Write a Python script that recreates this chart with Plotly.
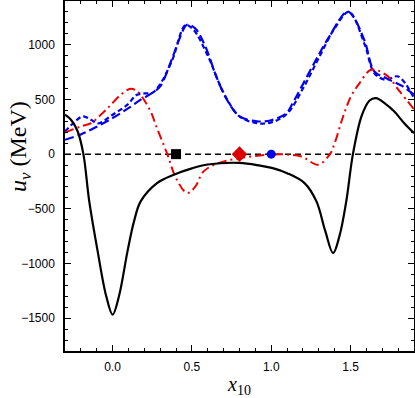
import plotly.graph_objects as go

# Black solid curve
x_black = [-0.3, -0.26, -0.22, -0.184, -0.147, -0.094, -0.04, 0.0, 0.04, 0.094, 0.135, 0.177,
           0.28, 0.386, 0.5, 0.6, 0.8, 0.93, 1.01, 1.1, 1.21, 1.285, 1.34, 1.39, 1.43, 1.473,
           1.515, 1.57, 1.62, 1.66, 1.72, 1.776, 1.84, 1.9]
y_black = [360, 310, 207, 0, -432, -889, -1300, -1468, -1300, -889, -615, -432,
           -265, -188, -130, -95, -80, -105, -128, -174, -265, -432, -700, -905, -750, -432,
           0, 350, 490, 512, 460, 390, 280, 192]

# Red dash-dot curve
x_red = [-0.3, -0.2, -0.136, -0.053, -0.01, 0.052, 0.115, 0.157, 0.198, 0.24, 0.28, 0.345,
         0.40, 0.47, 0.52, 0.574, 0.668, 0.8, 0.99, 1.09, 1.19, 1.295, 1.37, 1.40, 1.45,
         1.50, 1.557, 1.63, 1.724, 1.81, 1.9]
y_red = [198, 253, 283, 390, 452, 543, 598, 573, 497, 390, 238, 0,
         -220, -356, -300, -158, -82, -37, -5, -3, -21, -97, 0, 100, 330,
         520, 650, 771, 725, 573, 410]

# Blue dashed curve 1
x_blue1 = [-0.3, -0.2, -0.1, 0.0, 0.1, 0.18, 0.25, 0.3, 0.376, 0.42, 0.47, 0.52, 0.58,
           0.658, 0.72, 0.8, 0.91, 1.0, 1.097, 1.13, 1.254, 1.36, 1.48, 1.52, 1.59, 1.65,
           1.724, 1.83, 1.9]
y_blue1 = [131, 180, 250, 330, 420, 500, 560, 620, 877, 1050, 1183, 1150, 1000,
           695, 500, 345, 300, 310, 375, 451, 786, 1060, 1304, 1250, 1030, 756,
           695, 619, 543]

# Blue dashed curve 2
x_blue2 = [-0.3, -0.25, -0.188, -0.136, -0.094, 0.0, 0.094, 0.15, 0.2, 0.25, 0.3, 0.376,
           0.46, 0.51, 0.6, 0.7, 0.8, 0.91, 1.0, 1.1, 1.2, 1.3, 1.4, 1.49, 1.59, 1.65,
           1.72, 1.80, 1.9]
y_blue2 = [207, 280, 345, 314, 280, 360, 452, 540, 555, 560, 640, 860,
           1180, 1137, 900, 560, 345, 283, 290, 370, 600, 880, 1150, 1300, 1000, 740,
           680, 710, 512]

# Markers on the zero line
x_markers = [0.4, 0.8, 1.0]
y_markers = [0, 0, 0]

fig = go.Figure()

fig.add_trace(go.Scatter(x=[-0.3, 1.9], y=[0, 0], mode="lines",
                         line=dict(color="black", width=1.5, dash="6px,4px"),
                         showlegend=False, hoverinfo="skip"))
fig.add_trace(go.Scatter(x=x_blue1, y=y_blue1, mode="lines",
                         line=dict(color="#0000ee", width=2.2, dash="9px,4px", shape="spline", smoothing=1.0),
                         showlegend=False))
fig.add_trace(go.Scatter(x=x_blue2, y=y_blue2, mode="lines",
                         line=dict(color="#0000ee", width=2.2, dash="5px,3px", shape="spline", smoothing=1.0),
                         showlegend=False))
fig.add_trace(go.Scatter(x=x_red, y=y_red, mode="lines",
                         line=dict(color="#ee0000", width=2, dash="9px,4px,2px,4px", shape="spline", smoothing=1.0),
                         showlegend=False))
fig.add_trace(go.Scatter(x=x_black, y=y_black, mode="lines",
                         line=dict(color="black", width=2.2, shape="spline", smoothing=1.0),
                         showlegend=False))
fig.add_trace(go.Scatter(x=x_markers, y=y_markers, mode="markers",
                         marker=dict(symbol=["square", "diamond", "circle"],
                                     color=["black", "#dd0000", "#0000ee"],
                                     size=[10, 12, 9], opacity=1,
                                     line=dict(width=0)),
                         showlegend=False))

axis_common = dict(
    showline=True, linecolor="black", linewidth=1.5, mirror="allticks",
    ticks="inside", ticklen=6, tickwidth=1.2, tickcolor="black",
    showgrid=False, zeroline=False, automargin=False,
    tickfont=dict(family="Liberation Sans, Arial", size=12, color="black"),
)

fig.update_xaxes(range=[-0.3, 1.9], dtick=0.5, tick0=0, tickformat=".1f",
                 minor=dict(dtick=0.1, ticks="inside", ticklen=3, tickcolor="black", tickwidth=1),
                 title=dict(text="<i>x</i><sub>10</sub>",
                            font=dict(family="Liberation Serif, Times New Roman", size=20, color="black"),
                            standoff=6),
                 ticklabelstandoff=4,
                 **axis_common)
fig.update_yaxes(range=[-1800, 1400], dtick=500, tick0=0,
                 minor=dict(dtick=100, ticks="inside", ticklen=3, tickcolor="black", tickwidth=1),
                 ticklabelstandoff=6,
                 **axis_common)

fig.add_annotation(text="<i>u</i><sub><i>v</i></sub> (MeV)", textangle=-90,
                   xref="paper", yref="paper", x=-0.127, y=0.585,
                   xanchor="center", yanchor="middle", showarrow=False,
                   font=dict(family="Liberation Serif, Times New Roman", size=24, color="black"))

fig.update_layout(width=415, height=398, margin=dict(l=65, r=1, t=1, b=47),
                  paper_bgcolor="white", plot_bgcolor="white")

fig.write_html("out.html", config={"responsive": False, "displayModeBar": False},
               post_script="document.body.style.margin='0';document.body.style.overflow='hidden';")
